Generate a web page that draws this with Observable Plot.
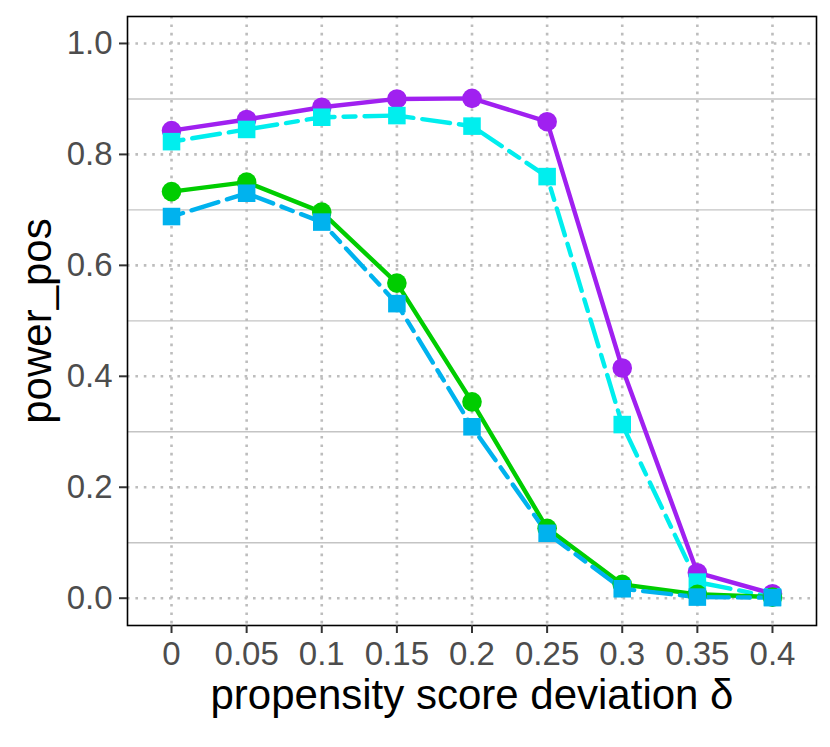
<!DOCTYPE html>
<html>
<head>
<meta charset="utf-8">
<script src="https://cdn.jsdelivr.net/npm/d3@7"></script>
<script src="https://cdn.jsdelivr.net/npm/@observablehq/plot@0.6"></script>
<style>
  html, body { margin: 0; padding: 0; background: #fff; }
  #chart { width: 830px; height: 747px; }
</style>
</head>
<body>
<div id="chart"></div>
<script>
const delta = [0, 0.05, 0.1, 0.15, 0.2, 0.25, 0.3, 0.35, 0.4];
const deltaLabels = ["0", "0.05", "0.1", "0.15", "0.2", "0.25", "0.3", "0.35", "0.4"];
const yMajor = [0, 0.2, 0.4, 0.6, 0.8, 1.0];
const yMinor = [0.1, 0.3, 0.5, 0.7, 0.9];
const yLabels = ["0.0", "0.2", "0.4", "0.6", "0.8", "1.0"];

const seriesNames = ["A", "B", "C", "D"];
const seriesA = [0.843, 0.863, 0.885, 0.900, 0.901, 0.859, 0.415, 0.046, 0.008];
const seriesB = [0.823, 0.845, 0.867, 0.870, 0.851, 0.760, 0.313, 0.029, 0.002];
const seriesC = [0.733, 0.750, 0.696, 0.568, 0.354, 0.126, 0.025, 0.007, 0.002];
const seriesD = [0.688, 0.730, 0.678, 0.531, 0.309, 0.117, 0.017, 0.002, 0.001];

const seriesValues = [seriesA, seriesB, seriesC, seriesD];
const colors = ["#A020F0", "#00EEEE", "#00CD00", "#00B2EE"];
const symbols = ["circle", "square", "circle", "square"];
const dashes = [null, "12,9,28,9", null, "12,9,28,9"];

const rows = [];
seriesNames.forEach((s, i) => delta.forEach((d, j) => rows.push({series: s, delta: d, value: seriesValues[i][j]})));

const font = "'Liberation Sans', Arial, Helvetica, sans-serif";

const lineMarks = seriesNames.map((s, i) =>
  Plot.line(rows.filter(r => r.series === s), {
    x: "delta", y: "value", stroke: colors[i], strokeWidth: 4.4,
    strokeDasharray: dashes[i] || undefined
  })
);
const dotMarks = seriesNames.map((s, i) =>
  Plot.dot(rows.filter(r => r.series === s), {
    x: "delta", y: "value", fill: colors[i], stroke: "none",
    symbol: symbols[i], r: symbols[i] === "square" ? 9.9 : 9.8
  })
);

const chart = Plot.plot({
  width: 830,
  height: 747,
  marginLeft: 127,
  marginRight: 14,
  marginTop: 16,
  marginBottom: 122,
  style: {fontFamily: font, background: "#fff", overflow: "visible"},
  x: {domain: [-0.0293, 0.4293], label: null},
  y: {domain: [-0.0492, 1.0486], label: null},
  marks: [
    Plot.ruleY(yMinor, {stroke: "#C4C4C4", strokeWidth: 1.4}),
    Plot.ruleY(yMajor, {stroke: "#BDBDBD", strokeWidth: 2.6, strokeDasharray: "2.6,5.8"}),
    Plot.ruleX(delta, {stroke: "#BDBDBD", strokeWidth: 2.6, strokeDasharray: "2.6,5.8"}),
    ...lineMarks,
    ...dotMarks,
    Plot.frame({stroke: "#000", strokeWidth: 1.6}),
    Plot.axisY(yMajor, {
      tickFormat: (d, i) => yLabels[i], tickSize: 8, tickPadding: 7,
      fontSize: 33, color: "#4D4D4D", stroke: "#333", strokeWidth: 2, label: null
    }),
    Plot.axisX(delta, {
      tickFormat: (d, i) => deltaLabels[i], tickSize: 8, tickPadding: 8,
      fontSize: 33, color: "#4D4D4D", stroke: "#333", strokeWidth: 2, label: null
    }),
    Plot.text(["power_pos"], {frameAnchor: "left", textAnchor: "middle", lineAnchor: "middle", dx: -90, rotate: -90, fontSize: 42, fill: "#000"}),
    Plot.text(["propensity score deviation δ"], {frameAnchor: "bottom", textAnchor: "middle", lineAnchor: "bottom", dy: 83, fontSize: 42, fill: "#000"})
  ]
});
document.getElementById("chart").appendChild(chart);
</script>
</body>
</html>
